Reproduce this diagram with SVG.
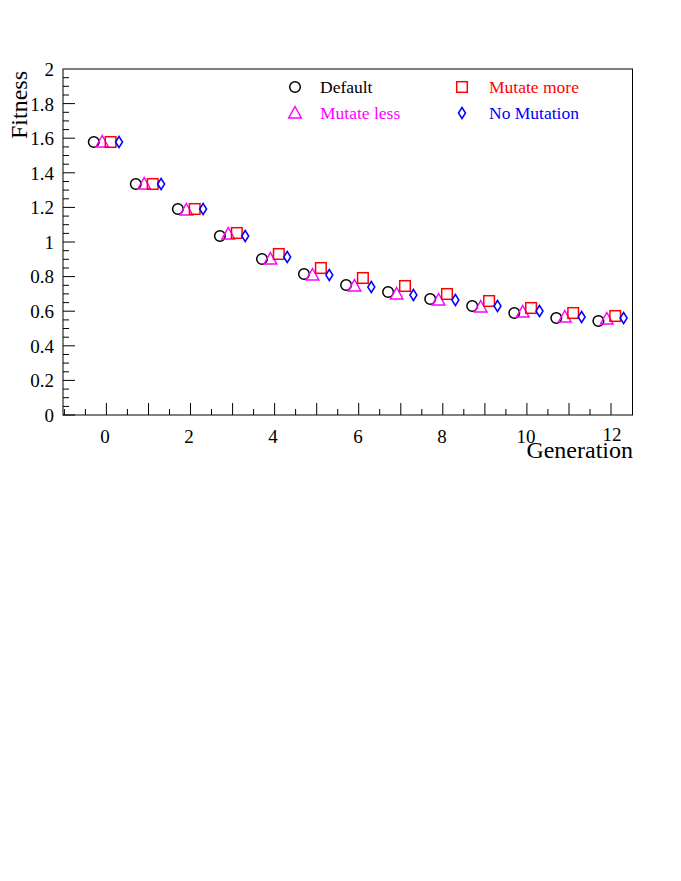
<svg xmlns="http://www.w3.org/2000/svg" width="681" height="881" viewBox="0 0 681 881">
<style>
text{font-family:"Liberation Serif",serif}
.t{font-size:19px}
.l{font-size:17.5px}
.ax{stroke:#000;stroke-width:1;fill:none}
.c{fill:none;stroke:#000;stroke-width:1.5}
.s{fill:none;stroke:#f00;stroke-width:1.5}
.tr{fill:none;stroke:#f0f;stroke-width:1.5}
.d{fill:none;stroke:#00f;stroke-width:1.5}
</style>
<defs>
<circle id="mc" r="5.3" class="c"/>
<rect id="ms" x="-5.3" y="-5.3" width="10.6" height="10.6" class="s"/>
<polygon id="mt" points="0,-6.5 6.3,5 -6.3,5" class="tr"/>
<polygon id="md" points="0,-5.5 3.5,0 0,5.5 -3.5,0" class="d"/>
</defs>
<rect width="681" height="881" fill="#fff"/>
<g id="axes">
<rect x="63" y="69" width="569.5" height="346" class="ax"/>
<path class="ax" d="M63,415h12M63,406.4h6M63,397.7h6M63,389.1h6M63,380.4h12M63,371.8h6M63,363.1h6M63,354.5h6M63,345.8h12M63,337.2h6M63,328.5h6M63,319.9h6M63,311.2h12M63,302.6h6M63,293.9h6M63,285.3h6M63,276.6h12M63,268h6M63,259.3h6M63,250.7h6M63,242h12M63,233.4h6M63,224.7h6M63,216.1h6M63,207.4h12M63,198.8h6M63,190.1h6M63,181.5h6M63,172.8h12M63,164.2h6M63,155.5h6M63,146.9h6M63,138.2h12M63,129.6h6M63,120.9h6M63,112.3h6M63,103.6h12M63,95h6M63,86.3h6M63,77.7h6"/>
<path class="ax" d="M64.4,415v-6M85.4,415v-6M106.4,415v-12M127.4,415v-6M148.5,415v-12M169.5,415v-6M190.5,415v-12M211.5,415v-6M232.6,415v-12M253.6,415v-6M274.6,415v-12M295.6,415v-6M316.7,415v-12M337.7,415v-6M358.7,415v-12M379.7,415v-6M400.8,415v-12M421.8,415v-6M442.8,415v-12M463.8,415v-6M484.9,415v-12M505.9,415v-6M526.9,415v-12M547.9,415v-6M569,415v-12M590,415v-6M611,415v-12"/>
<g class="t" text-anchor="end">
<text x="54" y="422">0</text><text x="54" y="387">0.2</text><text x="54" y="353">0.4</text><text x="54" y="318">0.6</text><text x="54" y="283">0.8</text><text x="54" y="249">1</text><text x="54" y="214">1.2</text><text x="54" y="180">1.4</text><text x="54" y="145">1.6</text><text x="54" y="111">1.8</text><text x="54" y="76">2</text>
</g>
<g class="t" text-anchor="middle">
<text x="105" y="443">0</text><text x="189" y="443">2</text><text x="273" y="443">4</text><text x="358" y="443">6</text><text x="442" y="443">8</text><text x="526" y="443">10</text><text x="612" y="441">12</text>
</g>
<text x="633" y="458" text-anchor="end" font-size="24">Generation</text>
<text transform="translate(27,139) rotate(-90)" font-size="24">Fitness</text>
</g>
<g id="default">
<use href="#mc" x="93.8" y="142"/><use href="#mc" x="135.8" y="184"/><use href="#mc" x="177.9" y="209"/><use href="#mc" x="219.9" y="236"/><use href="#mc" x="262" y="259"/><use href="#mc" x="304" y="274"/><use href="#mc" x="346.1" y="285"/><use href="#mc" x="388.1" y="292"/><use href="#mc" x="430.2" y="299"/><use href="#mc" x="472.2" y="306"/><use href="#mc" x="514.3" y="313"/><use href="#mc" x="556.3" y="318"/><use href="#mc" x="598.4" y="321"/>
</g>
<g id="mutate-less">
<use href="#mt" x="102.2" y="142"/><use href="#mt" x="144.2" y="184"/><use href="#mt" x="186.3" y="210"/><use href="#mt" x="228.3" y="234"/><use href="#mt" x="270.4" y="259"/><use href="#mt" x="312.5" y="275"/><use href="#mt" x="354.5" y="286"/><use href="#mt" x="396.6" y="294"/><use href="#mt" x="438.6" y="300"/><use href="#mt" x="480.7" y="307"/><use href="#mt" x="522.7" y="312"/><use href="#mt" x="564.8" y="317"/><use href="#mt" x="606.8" y="319"/>
</g>
<g id="mutate-more">
<use href="#ms" x="110.6" y="142"/><use href="#ms" x="152.7" y="184"/><use href="#ms" x="194.7" y="209"/><use href="#ms" x="236.8" y="233"/><use href="#ms" x="278.8" y="254"/><use href="#ms" x="320.9" y="268"/><use href="#ms" x="362.9" y="278"/><use href="#ms" x="405" y="286"/><use href="#ms" x="447" y="294"/><use href="#ms" x="489.1" y="301"/><use href="#ms" x="531.1" y="308"/><use href="#ms" x="573.2" y="313"/><use href="#ms" x="615.2" y="316"/>
</g>
<g id="no-mutation">
<use href="#md" x="119" y="142"/><use href="#md" x="161.1" y="184"/><use href="#md" x="203.1" y="209"/><use href="#md" x="245.2" y="236"/><use href="#md" x="287.2" y="257"/><use href="#md" x="329.3" y="275"/><use href="#md" x="371.3" y="287"/><use href="#md" x="413.4" y="295"/><use href="#md" x="455.4" y="300"/><use href="#md" x="497.5" y="306"/><use href="#md" x="539.5" y="311"/><use href="#md" x="581.6" y="317"/><use href="#md" x="623.6" y="318"/>
</g>
<g id="legend" class="l">
<use href="#mc" x="295" y="87"/><text x="320" y="93">Default</text>
<use href="#ms" x="462" y="87"/><text x="489" y="93" fill="#f00">Mutate more</text>
<use href="#mt" x="295" y="113"/><text x="320" y="119" fill="#f0f">Mutate less</text>
<use href="#md" x="462" y="113"/><text x="489" y="119" fill="#00f">No Mutation</text>
</g>
</svg>
